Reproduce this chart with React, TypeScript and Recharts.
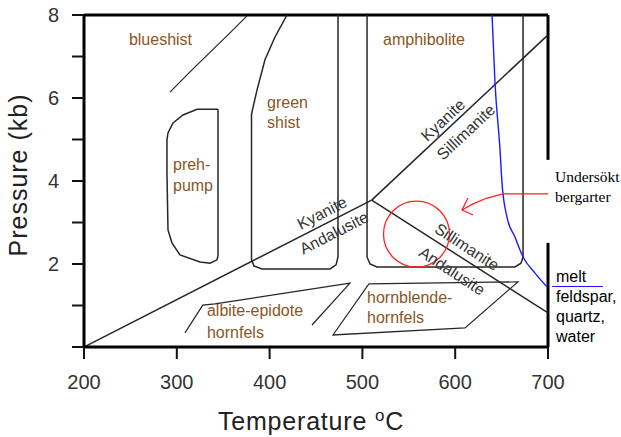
import React from "react";
import {
  ComposedChart,
  Line,
  XAxis,
  YAxis,
  ReferenceLine,
  ReferenceDot,
} from "recharts";

/* ── Data (temperature °C, pressure kb) ─────────────────── */
type Pt = { t: number; p: number };

const tempTicks = [200, 300, 400, 500, 600, 700];
const pressureTicks = [0, 1, 2, 3, 4, 5, 6, 7, 8];

// Al2SiO5 reaction lines meeting at the triple point
const kyaniteAndalusite: Pt[] = [
  { t: 200, p: 0 },
  { t: 510, p: 3.54 },
];
const kyaniteSillimanite: Pt[] = [
  { t: 510, p: 3.54 },
  { t: 700, p: 7.52 },
];
const sillimaniteAndalusite: Pt[] = [
  { t: 510, p: 3.54 },
  { t: 700, p: 0.82 },
];

// facies boundaries
const blueshistEdge: Pt[] = [
  { t: 292.7, p: 6.14 },
  { t: 314.2, p: 6.63 },
  { t: 357.3, p: 7.57 },
  { t: 375.6, p: 7.98 },
];
const greenShist: Pt[] = [
  { t: 418.8, p: 8 },
  { t: 405.8, p: 7.47 },
  { t: 395, p: 6.92 },
  { t: 386.4, p: 6.19 },
  { t: 381, p: 5.66 },
  { t: 380.5, p: 5.6 },
  { t: 380.5, p: 2.1 },
  { t: 383.2, p: 1.95 },
  { t: 391.8, p: 1.88 },
  { t: 465.1, p: 1.88 },
  { t: 471.6, p: 1.98 },
  { t: 473.7, p: 2.17 },
  { t: 473.7, p: 8 },
];
const amphibolite: Pt[] = [
  { t: 505, p: 8 },
  { t: 505, p: 2.17 },
  { t: 508.2, p: 2.0 },
  { t: 515.7, p: 1.93 },
  { t: 664.4, p: 1.93 },
  { t: 670.9, p: 2.02 },
  { t: 673.1, p: 2.17 },
  { t: 673.1, p: 8 },
];
const prehPump: Pt[] = [
  { t: 344.4, p: 5.73 },
  { t: 321.8, p: 5.73 },
  { t: 306.7, p: 5.59 },
  { t: 295.9, p: 5.4 },
  { t: 290.5, p: 5.16 },
  { t: 289.4, p: 4.99 },
  { t: 289.4, p: 4.2 },
  { t: 290.5, p: 2.82 },
  { t: 294.8, p: 2.51 },
  { t: 303.4, p: 2.22 },
  { t: 325, p: 2.05 },
  { t: 335.8, p: 2.02 },
  { t: 343.3, p: 2.1 },
  { t: 344.4, p: 2.2 },
  { t: 344.4, p: 5.73 },
];
const albiteEpidote: Pt[] = [
  { t: 308.8, p: 0.34 },
  { t: 328, p: 1.01 },
  { t: 341.2, p: 1.04 },
  { t: 486.6, p: 1.54 },
  { t: 445.7, p: 0.53 },
];
const hornblendeHornfels: Pt[] = [
  { t: 507, p: 1.52 },
  { t: 667.7, p: 1.57 },
  { t: 610.6, p: 0.46 },
  { t: 468.3, p: 0.29 },
  { t: 507, p: 1.52 },
];

// granite melting curve
const meltCurve: Pt[] = [
  { t: 639.7, p: 8 },
  { t: 642.9, p: 6.36 },
  { t: 648.3, p: 4.75 },
  { t: 650.4, p: 3.96 },
  { t: 655.8, p: 3.13 },
  { t: 664.4, p: 2.65 },
  { t: 673.1, p: 2.17 },
  { t: 686, p: 1.78 },
  { t: 698.9, p: 1.45 },
];

// studied rocks: circle + arrow
const studiedCenter: Pt = { t: 558.3, p: 2.72 };
const redArrow: Pt[] = [
  { t: 700, p: 3.69 },
  { t: 651.5, p: 3.69 },
  { t: 634.3, p: 3.59 },
  { t: 619.2, p: 3.45 },
  { t: 607.3, p: 3.3 },
];
const arrowHead: Pt[] = [
  { t: 613.8, p: 3.59 },
  { t: 607.3, p: 3.3 },
  { t: 619.2, p: 3.18 },
];

// labels
type Lbl = { text: string; t: number; p: number; angle?: number; anchor?: string };
const faciesLabels: Lbl[] = [
  { text: "blueshist", t: 282.4, p: 7.42, anchor: "middle" },
  { text: "green", t: 397.2, p: 5.9, anchor: "start" },
  { text: "shist", t: 397.2, p: 5.42, anchor: "start" },
  { text: "preh-", t: 295.9, p: 4.39, anchor: "start" },
  { text: "pump", t: 295.9, p: 3.9, anchor: "start" },
  { text: "amphibolite", t: 566.4, p: 7.42, anchor: "middle" },
  { text: "albite-epidote", t: 332.5, p: 0.89, anchor: "start" },
  { text: "hornfels", t: 332.5, p: 0.36, anchor: "start" },
  { text: "hornblende-", t: 505, p: 1.2, anchor: "start" },
  { text: "hornfels", t: 505, p: 0.72, anchor: "start" },
];
const mineralLabels: Lbl[] = [
  { text: "Kyanite", t: 586.9, p: 5.47, angle: -43 },
  { text: "Sillimanite", t: 611.6, p: 5.18, angle: -43 },
  { text: "Kyanite", t: 456.5, p: 3.23, angle: -27 },
  { text: "Andalusite", t: 469.4, p: 2.75, angle: -27 },
  { text: "Sillimanite", t: 612.7, p: 2.41, angle: 33 },
  { text: "Andalusite", t: 596.6, p: 1.83, angle: 33 },
];

const SANS = "'Liberation Sans', Arial, sans-serif";
const SERIF = "'Liberation Serif', 'Times New Roman', serif";
const BROWN = "#8b5523";
const INK = "#262626";

function textShape(l: Lbl, color: string) {
  return (props: any) => {
    const { cx, cy } = props;
    return (
      <text
        x={cx}
        y={cy}
        fill={color}
        fontSize={16}
        fontFamily={SANS}
        textAnchor={l.anchor ?? "middle"}
        dominantBaseline="central"
        transform={l.angle ? `rotate(${l.angle} ${cx} ${cy})` : undefined}
      >
        {l.text}
      </text>
    );
  };
}

function boundary(key: string, data: Pt[], stroke = INK, width = 1.5, type: any = "linear") {
  return (
    <Line
      key={key}
      data={data}
      dataKey="p"
      type={type}
      stroke={stroke}
      strokeWidth={width}
      dot={false}
      activeDot={false}
      isAnimationActive={false}
    />
  );
}

export default function App() {
  return (
    <div
      style={{
        position: "absolute",
        left: 0,
        top: 0,
        width: 621,
        height: 437,
        background: "#fff",
        overflow: "hidden",
      }}
    >
      <ComposedChart
        width={621}
        height={437}
        margin={{ top: 15, right: 73, bottom: 50, left: 24 }}
      >
        <XAxis
          dataKey="t"
          type="number"
          domain={[200, 700]}
          ticks={tempTicks}
          allowDataOverflow
          height={40}
          axisLine={{ stroke: "#000", strokeWidth: 3 }}
          tickLine={{ stroke: "#111", strokeWidth: 2 }}
          tickSize={12}
          tickMargin={16}
          tick={{ fontSize: 20, fill: "#333", fontFamily: SANS }}
        />
        <YAxis
          type="number"
          domain={[0, 8]}
          ticks={pressureTicks}
          allowDataOverflow
          width={60}
          axisLine={{ stroke: "#000", strokeWidth: 3 }}
          tickLine={{ stroke: "#111", strokeWidth: 2 }}
          tickSize={12}
          tickMargin={13}
          tickFormatter={(v: number) => (v > 0 && v % 2 === 0 ? String(v) : "")}
          tick={{ fontSize: 20, fill: "#333", fontFamily: SANS }}
        />

        {/* frame: top and right (right edge broken by the note box) */}
        <ReferenceLine y={8} stroke="#000" strokeWidth={3} ifOverflow="visible" />
        <ReferenceLine
          segment={[{ x: 700, y: 8 }, { x: 700, y: 4.51 }]}
          stroke="#000"
          strokeWidth={3}
          ifOverflow="visible"
        />
        <ReferenceLine
          segment={[{ x: 700, y: 2.51 }, { x: 700, y: 0 }]}
          stroke="#000"
          strokeWidth={3}
          ifOverflow="visible"
        />

        {boundary("ka", kyaniteAndalusite)}
        {boundary("ks", kyaniteSillimanite)}
        {boundary("sa", sillimaniteAndalusite)}
        {boundary("bs", blueshistEdge, INK, 1.2)}
        {boundary("gs", greenShist)}
        {boundary("am", amphibolite)}
        {boundary("pp", prehPump)}
        {boundary("ae", albiteEpidote, INK, 1.2)}
        {boundary("hh", hornblendeHornfels, INK, 1.2)}
        {boundary("melt", meltCurve, "#1a1aff", 1.4, "monotone")}
        {boundary("arrow", redArrow, "#ff2020", 1.3)}
        {boundary("head", arrowHead, "#ff2020", 1.3)}

        <ReferenceDot
          x={studiedCenter.t}
          y={studiedCenter.p}
          r={33}
          fill="none"
          stroke="#ff2020"
          strokeWidth={1.3}
        />

        {faciesLabels.map((l, i) => (
          <ReferenceDot
            key={"f" + i}
            x={l.t}
            y={l.p}
            r={0}
            ifOverflow="visible"
            shape={textShape(l, BROWN)}
          />
        ))}
        {mineralLabels.map((l, i) => (
          <ReferenceDot
            key={"m" + i}
            x={l.t}
            y={l.p}
            r={0}
            ifOverflow="visible"
            shape={textShape(l, "#333")}
          />
        ))}
      </ComposedChart>

      {/* axis titles */}
      <div
        style={{
          position: "absolute",
          left: 18,
          top: 175,
          transform: "translate(-50%, -50%) rotate(-90deg)",
          whiteSpace: "nowrap",
          fontFamily: SANS,
          fontSize: 25,
          letterSpacing: 1,
          color: "#222",
        }}
      >
        Pressure (kb)
      </div>
      <div
        style={{
          position: "absolute",
          left: 311,
          top: 409,
          transform: "translateX(-50%)",
          whiteSpace: "nowrap",
          fontFamily: SANS,
          fontSize: 25,
          lineHeight: "25px",
          letterSpacing: 0.8,
          color: "#222",
        }}
      >
        Temperature <sup style={{ fontSize: 17, verticalAlign: "9px", lineHeight: 0 }}>o</sup>C
      </div>

      {/* notes on the right */}
      <div
        style={{
          position: "absolute",
          left: 555,
          top: 167,
          fontFamily: SERIF,
          fontSize: 15.5,
          lineHeight: "20px",
          color: "#000",
          whiteSpace: "nowrap",
        }}
      >
        Undersökt
        <br />
        bergarter
      </div>
      <div
        style={{
          position: "absolute",
          left: 552,
          top: 286,
          width: 51,
          borderTop: "1.5px solid #1a1aff",
        }}
      />
      <div
        style={{
          position: "absolute",
          left: 556,
          top: 267,
          fontFamily: SANS,
          fontSize: 16,
          lineHeight: "20px",
          color: "#000",
          whiteSpace: "nowrap",
        }}
      >
        melt
        <br />
        feldspar,
        <br />
        quartz,
        <br />
        water
      </div>
    </div>
  );
}
